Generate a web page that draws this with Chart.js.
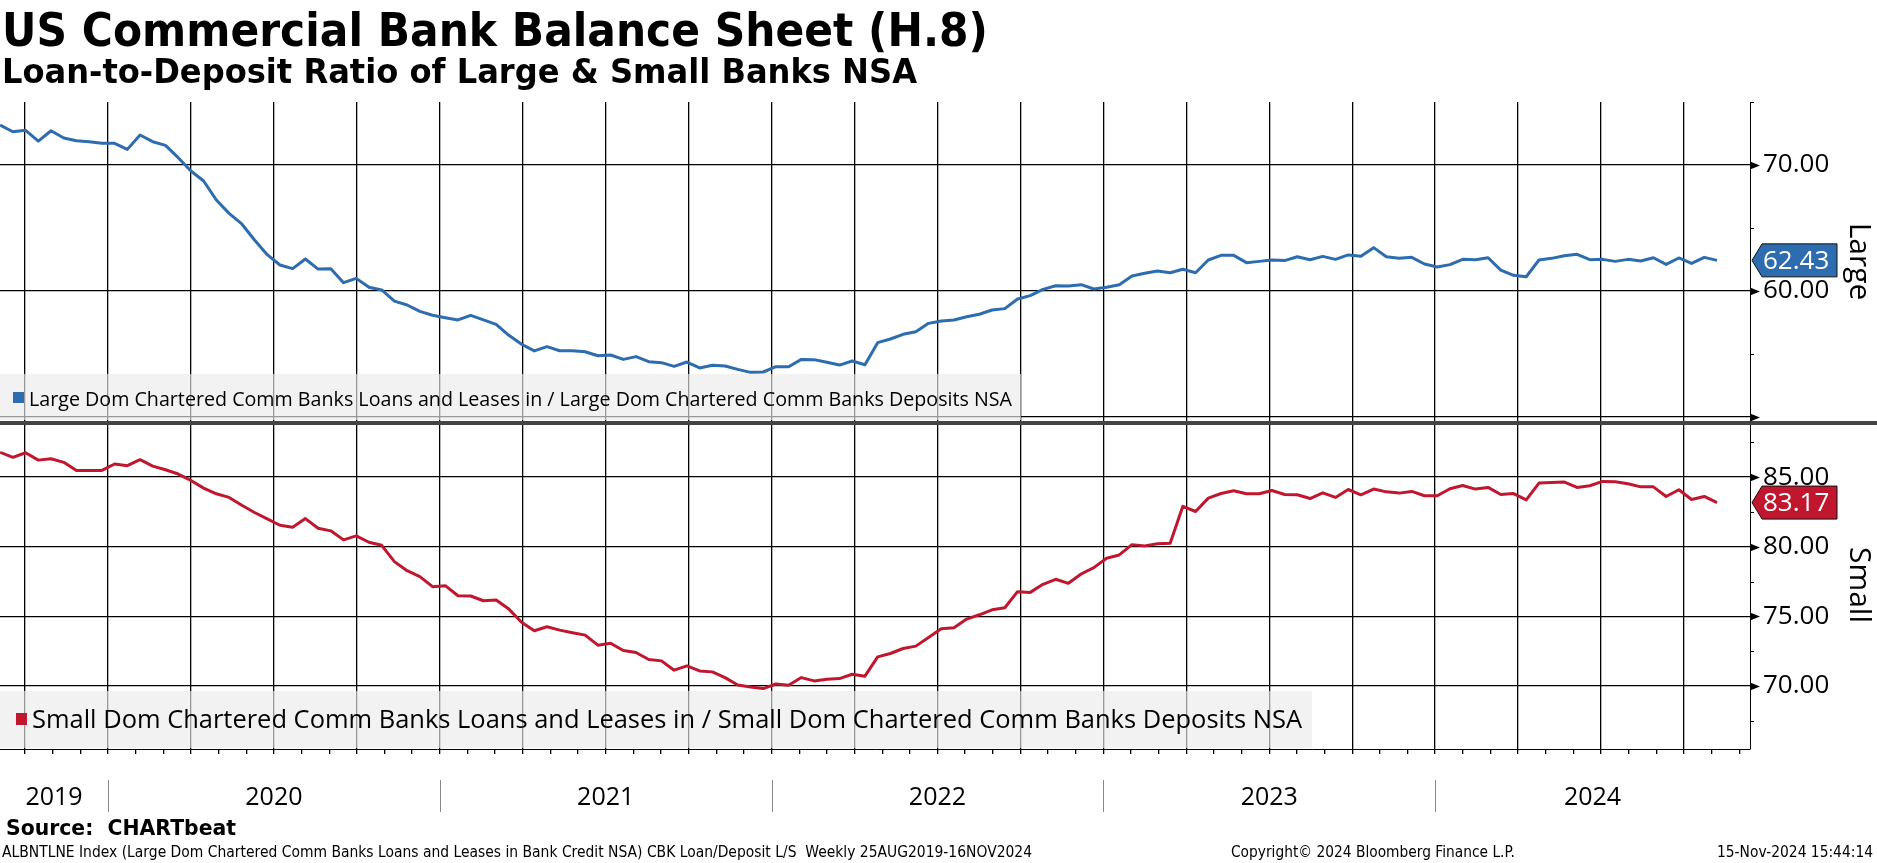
<!DOCTYPE html>
<html>
<head>
<meta charset="utf-8">
<script src="https://cdn.jsdelivr.net/npm/chart.js@4.4.1/dist/chart.umd.min.js"></script>
<style>
  html, body { margin: 0; padding: 0; background: #fff; overflow: hidden; }
  canvas { display: block; }
</style>
</head>
<body>
<canvas id="mainChart" width="1877" height="863"></canvas>
<script>
// Weekly H.8 series, sampled every two weeks from the chart
const startYear = 2019.675;
const stepYears = 14 / 365.25;

const largeRatio = [
  73.17, 72.64, 72.75, 71.90, 72.72, 72.14, 71.93, 71.85, 71.72, 71.72,
  71.24, 72.38, 71.85, 71.56, 70.58, 69.52, 68.73, 67.22, 66.16, 65.32,
  64.05, 62.88, 62.06, 61.77, 62.54, 61.74, 61.77, 60.66, 61.00, 60.29,
  60.08, 59.20, 58.89, 58.38, 58.07, 57.88, 57.70, 58.07, 57.70, 57.35,
  56.48, 55.77, 55.24, 55.58, 55.26, 55.26, 55.18, 54.86, 54.92, 54.57,
  54.79, 54.39, 54.31, 54.02, 54.36, 53.89, 54.10, 54.05, 53.78, 53.54,
  53.57, 53.99, 53.99, 54.57, 54.55, 54.34, 54.12, 54.44, 54.15, 55.90,
  56.19, 56.56, 56.77, 57.43, 57.62, 57.70, 57.96, 58.15, 58.49, 58.60,
  59.36, 59.63, 60.13, 60.42, 60.39, 60.50, 60.16, 60.29, 60.50, 61.19,
  61.40, 61.59, 61.45, 61.72, 61.45, 62.46, 62.83, 62.83, 62.25, 62.35,
  62.46, 62.41, 62.72, 62.48, 62.75, 62.51, 62.86, 62.75, 63.44, 62.72,
  62.59, 62.67, 62.14, 61.90, 62.09, 62.51, 62.48, 62.64, 61.66, 61.24,
  61.13, 62.46, 62.59, 62.80, 62.91, 62.48, 62.51, 62.35, 62.51, 62.38,
  62.64, 62.11, 62.62, 62.19, 62.67, 62.43
];

const smallRatio = [
  86.78, 86.42, 86.75, 86.22, 86.32, 86.06, 85.48, 85.48, 85.48, 85.94,
  85.82, 86.25, 85.79, 85.53, 85.22, 84.76, 84.21, 83.80, 83.54, 82.98,
  82.46, 82.00, 81.54, 81.40, 82.02, 81.33, 81.14, 80.49, 80.78, 80.32,
  80.10, 78.93, 78.28, 77.85, 77.13, 77.20, 76.48, 76.46, 76.12, 76.17,
  75.52, 74.58, 73.96, 74.25, 74.01, 73.82, 73.65, 72.93, 73.07, 72.54,
  72.40, 71.90, 71.80, 71.13, 71.44, 71.08, 71.01, 70.60, 70.07, 69.93,
  69.81, 70.14, 70.05, 70.60, 70.36, 70.48, 70.53, 70.84, 70.70, 72.09,
  72.33, 72.69, 72.86, 73.48, 74.11, 74.18, 74.80, 75.11, 75.47, 75.62,
  76.77, 76.72, 77.30, 77.66, 77.37, 78.04, 78.50, 79.17, 79.41, 80.15,
  80.06, 80.22, 80.25, 82.90, 82.53, 83.49, 83.82, 84.02, 83.80, 83.80,
  84.04, 83.75, 83.73, 83.46, 83.87, 83.54, 84.11, 83.73, 84.14, 83.94,
  83.85, 83.97, 83.66, 83.66, 84.16, 84.40, 84.14, 84.26, 83.75, 83.82,
  83.37, 84.57, 84.62, 84.64, 84.26, 84.38, 84.69, 84.66, 84.52, 84.30,
  84.30, 83.61, 84.09, 83.39, 83.61, 83.17
];

const yearLabels = ['2019', '2020', '2021', '2022', '2023', '2024'];
const largeTicks = [50, 55, 60, 65, 70, 75];
const largeLabelled = [60, 70];
const smallTicks = [67.5, 70, 72.5, 75, 77.5, 80, 82.5, 85, 87.5];
const smallLabelled = [70, 75, 80, 85];

const largeLegend = 'Large Dom Chartered Comm Banks Loans and Leases in / Large Dom Chartered Comm Banks Deposits NSA';
const smallLegend = 'Small Dom Chartered Comm Banks Loans and Leases in / Small Dom Chartered Comm Banks Deposits NSA';

const BLUE = '#2d6cae';
const RED = '#c0172f';
const TICK_FONT = '"Open Sans", "Noto Sans", sans-serif';

const toPoints = arr => arr.map((v, i) => ({ x: startYear + i * stepYears, y: v }));

// month positions for the bottom ticks, quarters get a grid line
const monthTicks = [];
for (let y = 2019; y <= 2024; y++) {
    for (let m = 0; m < 12; m++) monthTicks.push(y + m / 12);
}
const isQuarter = v => Math.abs(v * 4 - Math.round(v * 4)) < 1e-6;

function fitText(ctx, text, x, y, font, width, color) {
    ctx.save();
    ctx.font = font;
    ctx.fillStyle = color;
    ctx.textBaseline = 'alphabetic';
    ctx.textAlign = 'left';
    const w = ctx.measureText(text).width;
    ctx.translate(x, y);
    ctx.scale(width / w, 1);
    ctx.fillText(text, 0, 0);
    ctx.restore();
}

function drawTag(ctx, scale, value, color) {
    const yc = scale.getPixelForValue(value);
    const x0 = scale.left + 2;
    ctx.save();
    ctx.beginPath();
    ctx.moveTo(x0, yc);
    ctx.lineTo(x0 + 10, yc - 16.5);
    ctx.lineTo(x0 + 85, yc - 16.5);
    ctx.lineTo(x0 + 85, yc + 16.5);
    ctx.lineTo(x0 + 10, yc + 16.5);
    ctx.closePath();
    ctx.fillStyle = color;
    ctx.fill();
    ctx.strokeStyle = '#111';
    ctx.lineWidth = 1;
    ctx.stroke();
    ctx.fillStyle = '#fff';
    ctx.font = '26px ' + TICK_FONT;
    ctx.textBaseline = 'middle';
    ctx.textAlign = 'left';
    ctx.fillText(value.toFixed(2), x0 + 11, yc + 1);
    ctx.restore();
}

function drawAxisMarks(ctx, scale, ticks, isMajor) {
    const x = scale.left;
    ctx.save();
    ctx.fillStyle = '#000';
    ctx.strokeStyle = '#000';
    ctx.lineWidth = 1;
    ticks.forEach(v => {
        const y = Math.round(scale.getPixelForValue(v)) + 0.5;
        if (isMajor(v)) {
            ctx.beginPath();
            ctx.moveTo(x, y - 4);
            ctx.lineTo(x + 10, y);
            ctx.lineTo(x, y + 4);
            ctx.closePath();
            ctx.fill();
        } else {
            ctx.beginPath();
            ctx.moveTo(x, y);
            ctx.lineTo(x + 4, y);
            ctx.stroke();
        }
    });
    ctx.restore();
}

const decor = {
    id: 'decor',
    beforeDraw(chart) {
        const ctx = chart.ctx;
        ctx.save();
        ctx.fillStyle = '#fff';
        ctx.fillRect(0, 0, chart.width, chart.height);
        ctx.restore();
    },
    afterDraw(chart) {
        const ctx = chart.ctx;
        const { yL, yS, x } = chart.scales;

        // legend boxes (gridlines show through)
        ctx.save();
        ctx.fillStyle = 'rgba(235,235,235,0.65)';
        ctx.fillRect(0, 374, 1021, 46);
        ctx.fillRect(0, 691, 1312, 57);
        ctx.fillStyle = BLUE;
        ctx.fillRect(13, 392, 11, 11);
        ctx.fillStyle = RED;
        ctx.fillRect(16, 713, 11, 12);
        ctx.restore();
        fitText(ctx, largeLegend, 29, 406, '20px ' + TICK_FONT, 983, '#000');
        fitText(ctx, smallLegend, 32, 728, '26px ' + TICK_FONT, 1270, '#000');

        // panel separator
        ctx.save();
        ctx.fillStyle = '#444';
        ctx.fillRect(0, yL.bottom, chart.width, 4);
        ctx.restore();

        drawAxisMarks(ctx, yL, largeTicks, v => v % 10 === 0);
        drawAxisMarks(ctx, yS, smallTicks, v => v % 5 === 0);

        drawTag(ctx, yL, largeRatio[largeRatio.length - 1], BLUE);
        drawTag(ctx, yS, smallRatio[smallRatio.length - 1], RED);

        // year labels under the time axis
        ctx.save();
        ctx.font = '25px ' + TICK_FONT;
        ctx.fillStyle = '#000';
        ctx.textAlign = 'center';
        ctx.textBaseline = 'alphabetic';
        yearLabels.forEach(label => {
            const yr = parseInt(label, 10);
            const a = Math.max(x.min, yr), b = Math.min(x.max, yr + 1);
            const cx = (x.getPixelForValue(a) + x.getPixelForValue(b)) / 2;
            ctx.fillText(label, cx, 805);
            if (yr > 2019) {
                const px = Math.round(x.getPixelForValue(yr)) + 0.5;
                ctx.strokeStyle = '#8a8a8a';
                ctx.lineWidth = 1;
                ctx.beginPath();
                ctx.moveTo(px, 780);
                ctx.lineTo(px, 812);
                ctx.stroke();
            }
        });
        ctx.restore();

        // titles and footer
        fitText(ctx, 'US Commercial Bank Balance Sheet (H.8)', 2, 46, 'bold 46px "DejaVu Sans"', 986, '#000');
        fitText(ctx, 'Loan-to-Deposit Ratio of Large & Small Banks NSA', 2, 83, 'bold 34px "DejaVu Sans"', 915, '#000');
        fitText(ctx, 'Source:  CHARTbeat', 6, 835, 'bold 21px "DejaVu Sans"', 230, '#000');
        fitText(ctx, 'ALBNTLNE Index (Large Dom Chartered Comm Banks Loans and Leases in Bank Credit NSA) CBK Loan/Deposit L/S  Weekly 25AUG2019-16NOV2024',
            2, 857, '15px "DejaVu Sans"', 1030, '#000');
        fitText(ctx, 'Copyright\u00A9 2024 Bloomberg Finance L.P.', 1231, 857, '15px "DejaVu Sans"', 284, '#000');
        fitText(ctx, '15-Nov-2024 15:44:14', 1717, 857, '15px "DejaVu Sans"', 156, '#000');
    }
};

const chart = new Chart(document.getElementById('mainChart').getContext('2d'), {
    type: 'line',
    data: {
        datasets: [
            {
                label: largeLegend,
                data: toPoints(largeRatio),
                yAxisID: 'yL',
                borderColor: BLUE,
                borderWidth: 3,
                pointRadius: 0,
                tension: 0,
                borderJoinStyle: 'round'
            },
            {
                label: smallLegend,
                data: toPoints(smallRatio),
                yAxisID: 'yS',
                borderColor: RED,
                borderWidth: 3,
                pointRadius: 0,
                tension: 0,
                borderJoinStyle: 'round'
            }
        ]
    },
    options: {
        responsive: false,
        animation: false,
        devicePixelRatio: 1,
        layout: { padding: { top: 102, left: 0, right: 0, bottom: 109 } },
        plugins: { legend: { display: false }, tooltip: { enabled: false } },
        scales: {
            x: {
                type: 'linear',
                min: 2019.6745,
                max: 2024.949,
                afterBuildTicks: s => { s.ticks = monthTicks.filter(v => v >= s.min && v <= s.max).map(v => ({ value: v })); },
                afterFit: s => { s.height = 5; },
                ticks: { display: false },
                grid: {
                    color: c => (c.tick && isQuarter(c.tick.value)) ? '#000' : 'rgba(0,0,0,0)',
                    lineWidth: 1.3,
                    drawTicks: true,
                    tickLength: 5,
                    tickColor: '#000'
                },
                border: { display: true, color: '#000', width: 1 }
            },
            yL: {
                type: 'linear',
                position: 'right',
                stack: 'panels',
                stackWeight: 319,
                min: 49.68,
                max: 75,
                afterBuildTicks: s => { s.ticks = largeTicks.map(v => ({ value: v })); },
                afterFit: s => { s.width = 127; },
                grid: {
                    color: c => (c.tick && c.tick.value % 10 === 0 && c.tick.value < 75) ? '#000' : 'rgba(0,0,0,0)',
                    lineWidth: 1.3,
                    drawTicks: false
                },
                border: { display: true, color: '#000', width: 1 },
                ticks: {
                    autoSkip: false,
                    maxRotation: 0,
                    padding: 13,
                    color: '#000',
                    font: { family: TICK_FONT, size: 26 },
                    callback: v => largeLabelled.includes(v) ? v.toFixed(2) : ''
                },
                title: { display: true, text: 'Large', color: '#000', padding: 0, font: { family: TICK_FONT, size: 30, lineHeight: 1.2 } }
            },
            yS: {
                type: 'linear',
                position: 'right',
                stack: 'panels',
                stackWeight: 328,
                min: 65.47,
                max: 89.03,
                afterBuildTicks: s => { s.ticks = smallTicks.map(v => ({ value: v })); },
                afterFit: s => { s.width = 127; },
                grid: {
                    color: c => (c.tick && c.tick.value % 5 === 0) ? '#000' : 'rgba(0,0,0,0)',
                    lineWidth: 1.3,
                    drawTicks: false
                },
                border: { display: true, color: '#000', width: 1 },
                ticks: {
                    autoSkip: false,
                    maxRotation: 0,
                    padding: 13,
                    color: '#000',
                    font: { family: TICK_FONT, size: 26 },
                    callback: v => smallLabelled.includes(v) ? v.toFixed(2) : ''
                },
                title: { display: true, text: 'Small', color: '#000', padding: 0, font: { family: TICK_FONT, size: 30, lineHeight: 1.2 } }
            }
        }
    },
    plugins: [decor]
});
</script>
</body>
</html>
